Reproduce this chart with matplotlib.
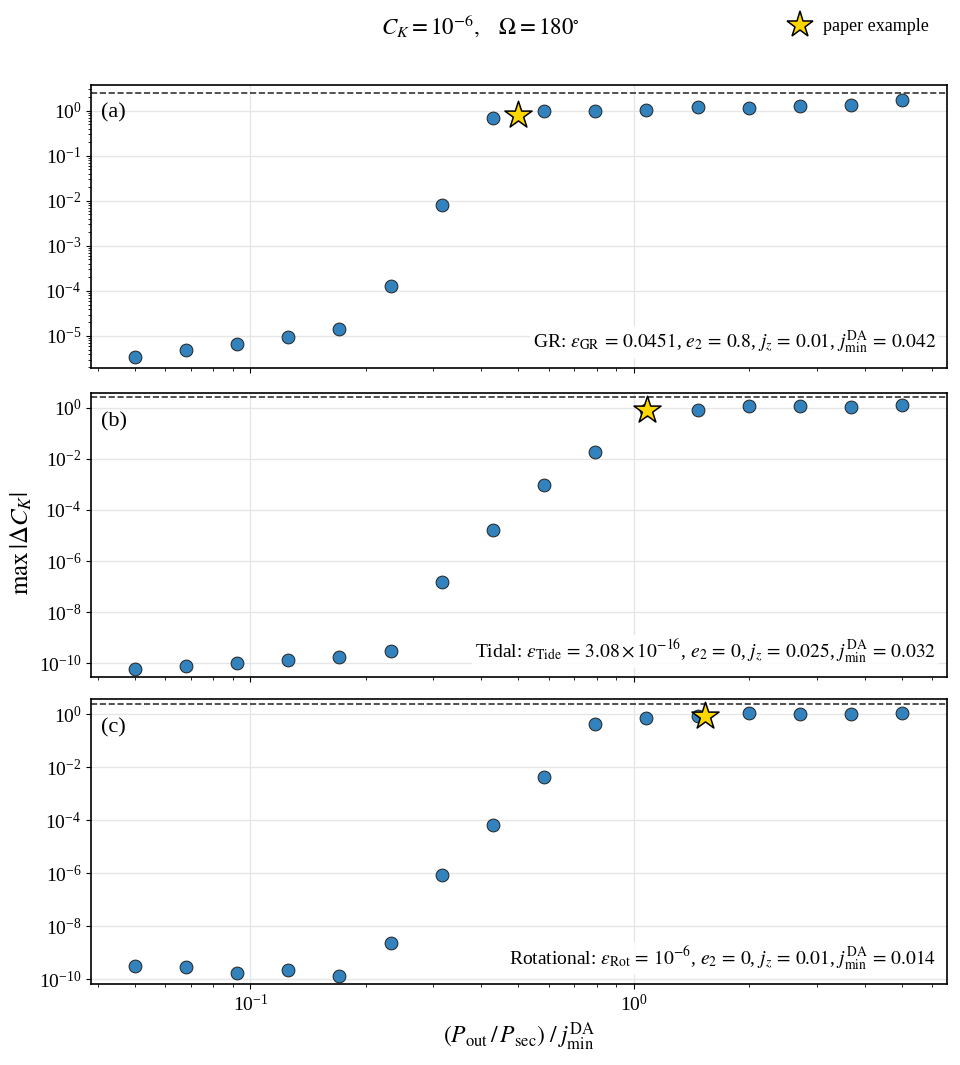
import matplotlib
matplotlib.use("Agg")
import matplotlib.pyplot as plt
from matplotlib.lines import Line2D

plt.rcParams["font.family"] = "serif"
plt.rcParams["font.serif"] = ["Liberation Serif", "DejaVu Serif"]
plt.rcParams["mathtext.fontset"] = "stix"

# x positions (P_out/P_sec)/j_min^DA
x = [0.0500, 0.0680, 0.0923, 0.1256, 0.1707, 0.2321, 0.3155, 0.4290,
     0.5833, 0.7930, 1.0782, 1.4660, 1.9933, 2.7102, 3.6850, 5.0000]

# max |dC_K| per panel
y_gr = [3.5e-6, 4.9e-6, 6.8e-6, 9.5e-6, 1.4e-5, 1.3e-4, 8.3e-3, 0.71,
        0.98, 0.98, 1.07, 1.23, 1.15, 1.27, 1.36, 1.73]
y_tide = [5.9e-11, 8.1e-11, 1.03e-10, 1.35e-10, 1.78e-10, 2.96e-10, 1.6e-7, 1.66e-5,
          9.6e-4, 0.0183, 0.80, 0.835, 1.16, 1.2, 1.09, 1.27]
y_rot = [3.2e-10, 2.9e-10, 1.8e-10, 2.2e-10, 1.34e-10, 2.4e-9, 8.9e-7, 6.5e-5,
         4.3e-3, 0.42, 0.73, 0.87, 1.09, 1.0, 1.06, 1.09]

# paper example stars
star_x = [0.50, 1.08, 1.53]
star_y = [0.80, 0.835, 0.865]

panel_tags = ["(a)", "(b)", "(c)"]
notes = [
    r"GR: $\varepsilon_{\rm GR}\,=\,0.0451$, $e_2\,=\,0.8$, $j_z\,=\,0.01$, $j^{\rm DA}_{\rm min}\,=\,0.042$",
    r"Tidal: $\varepsilon_{\rm Tide}\,=\,3.08 \times 10^{-16}$, $e_2\,=\,0$, $j_z\,=\,0.025$, $j^{\rm DA}_{\rm min}\,=\,0.032$",
    r"Rotational: $\varepsilon_{\rm Rot}\,=\,10^{-6}$, $e_2\,=\,0$, $j_z\,=\,0.01$, $j^{\rm DA}_{\rm min}\,=\,0.014$",
]
upper = 2.5
ylims = [(1.95e-6, 3.75), (2.95e-11, 3.75), (6.7e-11, 3.75)]

fig = plt.figure(figsize=(9.6, 10.65), dpi=100)
boxes = [[0.095, 0.6545, 0.891, 0.2657],
         [0.095, 0.3643, 0.891, 0.2667],
         [0.095, 0.0761, 0.891, 0.2676]]
axes = []
for i, ys in enumerate([y_gr, y_tide, y_rot]):
    ax = fig.add_axes(boxes[i])
    axes.append(ax)
    ax.set_xscale("log")
    ax.set_yscale("log")
    ax.grid(True, which="major", color="#e6e6e6", lw=1.0)
    ax.set_axisbelow(True)
    ax.scatter(x, ys, s=85, c="#3282bd", edgecolors="#222222", linewidths=0.7, zorder=3)
    ax.scatter([star_x[i]], [star_y[i]], marker="*", s=420, c="#ffd700",
               edgecolors="black", linewidths=1.1, zorder=4)
    ax.axhline(upper, color="#333333", ls="--", lw=1.2)
    ax.set_xlim(0.0385, 6.53)
    ax.set_ylim(*ylims[i])
    ax.text(0.012, 0.9, panel_tags[i], transform=ax.transAxes, fontsize=16, va="center")
    ax.text(0.988, 0.09, notes[i], transform=ax.transAxes, fontsize=14, ha="right",
            va="center", bbox=dict(facecolor="white", edgecolor="none", alpha=0.85, pad=2))
    ax.tick_params(labelsize=14)
    for sp in ax.spines.values():
        sp.set_linewidth(1.2)
    if i > 0:
        ax.set_yticks([1e0, 1e-2, 1e-4, 1e-6, 1e-8, 1e-10])
        ax.yaxis.set_minor_locator(matplotlib.ticker.NullLocator())
    if i < 2:
        ax.tick_params(labelbottom=False)

axes[2].set_xlabel(r"$\left(P_{\rm out}\,/\,P_{\rm sec}\right)\;/\;j^{\rm DA}_{\rm min}$", fontsize=17)
fig.text(0.022, 0.49, r"$\max\,|\Delta C_K|$", rotation=90, fontsize=18, va="center", ha="center")
fig.text(0.5, 0.975, r"$C_K = 10^{-6}, \quad \Omega = 180^{\circ}$", fontsize=16.5, ha="center", va="center")

star_handle = Line2D([], [], marker="*", ls="none", markersize=20, markerfacecolor="#ffd700",
                     markeredgecolor="black", markeredgewidth=1.1)
fig.legend([star_handle], ["paper example"], loc="center right", bbox_to_anchor=(0.985, 0.975),
           frameon=False, fontsize=13, handletextpad=0.3)

fig.savefig("out.png", dpi=100)
